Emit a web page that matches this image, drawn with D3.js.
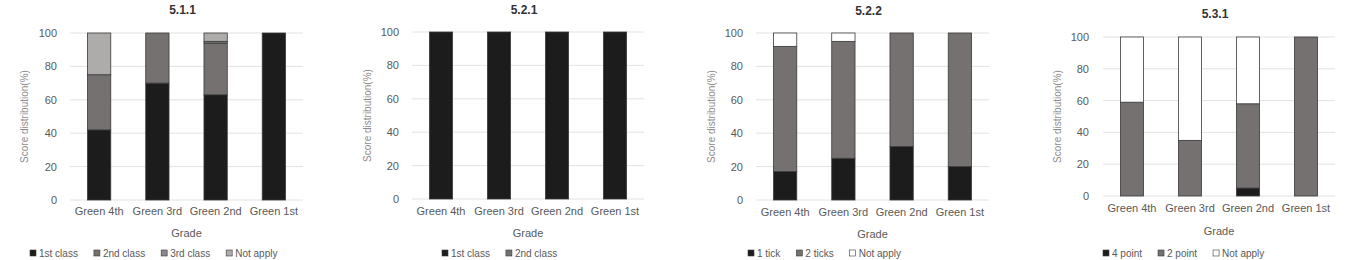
<!DOCTYPE html>
<html>
<head>
<meta charset="utf-8">
<script src="https://cdn.jsdelivr.net/npm/d3@7"></script>
<style>
  body { margin: 0; background: #fff; }
  svg { display: block; font-family: "Liberation Sans", Arial, sans-serif; }
</style>
</head>
<body>
<svg id="chart" width="1358" height="260"></svg>
<script>
// grades on the x axis (same for all four panels)
const grades = ["Green 4th", "Green 3rd", "Green 2nd", "Green 1st"];
const yTicks = [0, 20, 40, 60, 80, 100];

// 5.1.1
const keys511 = ["1st class", "2nd class", "3rd class", "Not apply"];
const first511 = [42, 70, 63, 100];
const second511 = [33, 30, 31, 0];
const third511 = [0, 0, 1, 0];
const notApply511 = [25, 0, 5, 0];

// 5.2.1
const keys521 = ["1st class", "2nd class"];
const first521 = [100, 100, 100, 100];
const second521 = [0, 0, 0, 0];

// 5.2.2
const keys522 = ["1 tick", "2 ticks", "Not apply"];
const one522 = [17, 25, 32, 20];
const two522 = [75, 70, 68, 80];
const notApply522 = [8, 5, 0, 0];

// 5.3.1
const keys531 = ["4 point", "2 point", "Not apply"];
const four531 = [0, 0, 5, 0];
const two531 = [59, 35, 53, 100];
const notApply531 = [41, 65, 42, 0];

const colorsBlack = "#1c1c1c", colorsDark = "#767171", colorsMid = "#8a8888", colorsLight = "#aeabab";

function rows(keys, cols) {
    return grades.map((g, i) => {
        const r = { grade: g };
        keys.forEach((k, j) => r[k] = cols[j][i]);
        return r;
    });
}

const panels = [
    { title: "5.1.1", keys: keys511, data: rows(keys511, [first511, second511, third511, notApply511]),
      colors: [colorsBlack, colorsDark, colorsMid, colorsLight],
      left: 70, right: 303, top: 33, bottom: 200, titleY: 14, tickRight: 57, yTitleX: 25,
      xLabY: 216, gradeY: 233, legendX: 30 },
    { title: "5.2.1", keys: keys521, data: rows(keys521, [first521, second521]),
      colors: [colorsBlack, colorsDark],
      left: 412, right: 644, top: 32, bottom: 199, titleY: 14, tickRight: 399, yTitleX: 368,
      xLabY: 216, gradeY: 233, legendX: 442 },
    { title: "5.2.2", keys: keys522, data: rows(keys522, [one522, two522, notApply522]),
      colors: [colorsBlack, colorsDark, "#ffffff"],
      left: 756, right: 989, top: 33, bottom: 200, titleY: 15, tickRight: 743, yTitleX: 712,
      xLabY: 217, gradeY: 234, legendX: 748 },
    { title: "5.3.1", keys: keys531, data: rows(keys531, [four531, two531, notApply531]),
      colors: [colorsBlack, colorsDark, "#ffffff"],
      left: 1103, right: 1335, top: 37, bottom: 196, titleY: 18, tickRight: 1089, yTitleX: 1058,
      xLabY: 213, gradeY: 231, legendX: 1103 }
];

const svg = d3.select("#chart");

panels.forEach(function(p) {
    const g = svg.append("g");

    const x = d3.scaleBand().domain(grades).range([p.left, p.right])
        .paddingInner(0.6).paddingOuter(0.3);
    const y = d3.scaleLinear().domain([0, 100]).range([p.bottom, p.top]);
    const color = d3.scaleOrdinal().domain(p.keys).range(p.colors);

    // titulo
    g.append("text")
        .attr("x", (p.left + p.right) / 2 - 4)
        .attr("y", p.titleY)
        .attr("text-anchor", "middle")
        .attr("font-size", 12)
        .attr("font-weight", "bold")
        .attr("fill", "#333")
        .text(p.title);

    // gridlines
    g.selectAll("line.grid")
        .data(yTicks)
        .enter().append("line")
        .attr("x1", p.left).attr("x2", p.right)
        .attr("y1", d => y(d)).attr("y2", d => y(d))
        .attr("stroke", "#e2e2e2")
        .attr("stroke-width", 1);

    // y axis labels
    const yAxis = d3.axisLeft(y).tickValues(yTicks).tickSize(0).tickPadding(0);
    const ya = g.append("g")
        .attr("transform", `translate(${p.tickRight},0)`)
        .call(yAxis);
    ya.select(".domain").remove();
    ya.selectAll("text").attr("font-size", 11).attr("fill", "#595959")
        .attr("font-family", "Liberation Sans, Arial, sans-serif");

    // barras apiladas
    const series = d3.stack().keys(p.keys)(p.data);
    g.append("g")
        .selectAll("g")
        .data(series)
        .enter().append("g")
        .attr("fill", d => color(d.key))
        .selectAll("rect")
        .data(d => d.filter(s => s[1] - s[0] > 0))
        .enter().append("rect")
        .attr("x", d => x(d.data.grade))
        .attr("width", x.bandwidth())
        .attr("y", d => y(d[1]))
        .attr("height", d => y(d[0]) - y(d[1]))
        .attr("stroke", "#3a3a3a")
        .attr("stroke-width", 0.8);

    // x axis labels
    const xAxis = d3.axisBottom(x).tickSize(0).tickPadding(0);
    const xa = g.append("g")
        .attr("transform", `translate(0,${p.xLabY - 9})`)
        .call(xAxis);
    xa.select(".domain").remove();
    xa.selectAll("text").attr("font-size", 11).attr("fill", "#595959")
        .attr("font-family", "Liberation Sans, Arial, sans-serif");

    // axis titles
    g.append("text")
        .attr("x", (p.left + p.right) / 2)
        .attr("y", p.gradeY + 4)
        .attr("text-anchor", "middle")
        .attr("font-size", 11)
        .attr("fill", "#595959")
        .text("Grade");

    g.append("text")
        .attr("transform", `translate(${p.yTitleX + 3},${(p.top + p.bottom) / 2}) rotate(-90)`)
        .attr("text-anchor", "middle")
        .attr("font-size", 10)
        .attr("fill", "#8c8c8c")
        .text("Score distribution(%)");

    // leyenda
    let lx = p.legendX;
    p.keys.forEach(function(k) {
        g.append("rect")
            .attr("x", lx).attr("y", 250)
            .attr("width", 6).attr("height", 6)
            .attr("fill", color(k))
            .attr("stroke", "#3a3a3a").attr("stroke-width", 0.6);
        const t = g.append("text")
            .attr("x", lx + 9).attr("y", 257)
            .attr("font-size", 10)
            .attr("fill", "#595959")
            .text(k);
        lx += 9 + t.node().getComputedTextLength() + 16;
    });
});
</script>
</body>
</html>
